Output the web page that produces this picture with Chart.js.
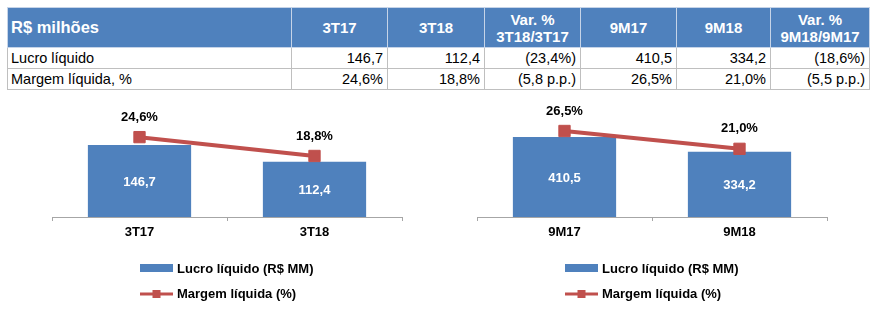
<!DOCTYPE html>
<html lang="pt-BR">
<head>
<meta charset="utf-8">
<title>Lucro líquido e margem líquida</title>
<script src="https://cdn.jsdelivr.net/npm/chart.js@4.4.0/dist/chart.umd.min.js"></script>
<style>
    body {
        margin: 0;
        width: 877px;
        height: 324px;
        background: #fff;
        font-family: Arial, "Liberation Sans", sans-serif;
        position: relative;
        overflow: hidden;
    }
    #resumo {
        position: absolute;
        left: 7px;
        top: 7px;
        width: 862px;
        border-collapse: collapse;
        table-layout: fixed;
    }
    #resumo th, #resumo td {
        padding: 0 4px;
        border: 1px solid #bfbfbf;
        white-space: nowrap;
        box-sizing: border-box;
    }
    #resumo th {
        background: #4f81bd;
        color: #fff;
        font-weight: bold;
        font-size: 15px;
        line-height: 17px;
        height: 40px;
        text-align: center;
        border-color: #c6d4e8;
    }
    #resumo th.first {
        text-align: left;
        font-size: 16.5px;
        padding-left: 3px;
    }
    #resumo td {
        font-size: 14.5px;
        line-height: 17px;
        text-align: right;
        height: 21px;
        color: #000;
    }
    #resumo td.first {
        text-align: left;
        padding-left: 3px;
    }
    .chart-box {
        position: absolute;
        top: 100px;
        height: 224px;
    }
</style>
</head>
<body>

<table id="resumo"></table>

<div class="chart-box" style="left:0px;width:437px;">
    <canvas id="chartTrimestre" width="437" height="224"></canvas>
</div>
<div class="chart-box" style="left:437px;width:440px;">
    <canvas id="chartNoveMeses" width="440" height="224"></canvas>
</div>

<script>
// Periodos
const periodosTri = ['3T17', '3T18'];
const periodos9M = ['9M17', '9M18'];

// Lucro liquido (R$ milhoes)
const lucroTri = [146.7, 112.4];
const lucro9M = [410.5, 334.2];

// Margem liquida (%)
const margemTri = [24.6, 18.8];
const margem9M = [26.5, 21.0];

const BLUE = '#4f81bd';
const RED = '#c0504d';
const FONT = 'Arial, "Liberation Sans", sans-serif';

function fmt(v) {
    return v.toFixed(1).replace('.', ',');
}

// Tabela resumo
function buildTable() {
    const varLucroTri = (lucroTri[1] / lucroTri[0] - 1) * 100;
    const varLucro9M = (lucro9M[1] / lucro9M[0] - 1) * 100;
    const varMargTri = margemTri[1] - margemTri[0];
    const varMarg9M = margem9M[1] - margem9M[0];
    const neg = (v, suf) => v < 0 ? '(' + fmt(-v) + suf + ')' : fmt(v) + suf;

    const widths = [284, 96, 97, 96, 96, 94, 99];
    let html = '<colgroup>' + widths.map(w => '<col style="width:' + w + 'px">').join('') + '</colgroup>';
    html += '<tr><th class="first">R$ milhões</th>' +
        '<th>' + periodosTri[0] + '</th><th>' + periodosTri[1] + '</th>' +
        '<th>Var. %<br>' + periodosTri[1] + '/' + periodosTri[0] + '</th>' +
        '<th>' + periodos9M[0] + '</th><th>' + periodos9M[1] + '</th>' +
        '<th>Var. %<br>' + periodos9M[1] + '/' + periodos9M[0] + '</th></tr>';
    html += '<tr><td class="first">Lucro líquido</td>' +
        '<td>' + fmt(lucroTri[0]) + '</td><td>' + fmt(lucroTri[1]) + '</td>' +
        '<td>' + neg(varLucroTri, '%') + '</td>' +
        '<td>' + fmt(lucro9M[0]) + '</td><td>' + fmt(lucro9M[1]) + '</td>' +
        '<td>' + neg(varLucro9M, '%') + '</td></tr>';
    html += '<tr><td class="first">Margem líquida, %</td>' +
        '<td>' + fmt(margemTri[0]) + '%</td><td>' + fmt(margemTri[1]) + '%</td>' +
        '<td>' + neg(varMargTri, ' p.p.') + '</td>' +
        '<td>' + fmt(margem9M[0]) + '%</td><td>' + fmt(margem9M[1]) + '%</td>' +
        '<td>' + neg(varMarg9M, ' p.p.') + '</td></tr>';
    document.getElementById('resumo').innerHTML = html;
}

// Valores dentro das barras e acima dos pontos
const valueLabels = {
    id: 'valueLabels',
    afterDatasetsDraw(chart) {
        const ctx = chart.ctx;
        ctx.save();
        ctx.font = 'bold 13px ' + FONT;
        ctx.textAlign = 'center';
        ctx.textBaseline = 'middle';
        chart.data.datasets.forEach((ds, i) => {
            const meta = chart.getDatasetMeta(i);
            meta.data.forEach((el, j) => {
                if (ds.type === 'line') {
                    ctx.fillStyle = '#000';
                    ctx.fillText(fmt(ds.data[j]) + '%', el.x, el.y - 20);
                } else {
                    ctx.fillStyle = '#fff';
                    ctx.fillText(fmt(ds.data[j]), el.x, (el.y + el.base) / 2 + 1);
                }
            });
        });
        ctx.restore();
    }
};

// Legenda empilhada abaixo do eixo
const stackedLegend = {
    id: 'stackedLegend',
    afterDraw(chart) {
        const {ctx, chartArea} = chart;
        const barDs = chart.data.datasets[0];
        const lineDs = chart.data.datasets[1];
        const x0 = chartArea.left + 88;
        const yBar = chartArea.bottom + 51;
        const yLine = chartArea.bottom + 77;
        ctx.save();
        ctx.fillStyle = barDs.backgroundColor;
        ctx.fillRect(x0, yBar - 4, 33, 8);
        ctx.strokeStyle = lineDs.borderColor;
        ctx.lineWidth = 3;
        ctx.beginPath();
        ctx.moveTo(x0, yLine);
        ctx.lineTo(x0 + 33, yLine);
        ctx.stroke();
        ctx.fillStyle = lineDs.borderColor;
        ctx.fillRect(x0 + 12.5, yLine - 4, 8, 8);
        ctx.font = 'bold 13px ' + FONT;
        ctx.fillStyle = '#000';
        ctx.textAlign = 'left';
        ctx.textBaseline = 'middle';
        ctx.fillText(barDs.label, x0 + 37, yBar + 1);
        ctx.fillText(lineDs.label, x0 + 37, yLine);
        ctx.restore();
    }
};

function makeChart(id, labels, lucro, margem, barMax, padLeft, padRight) {
    const ctx = document.getElementById(id).getContext('2d');
    return new Chart(ctx, {
        type: 'bar',
        data: {
            labels: labels,
            datasets: [{
                type: 'bar',
                label: 'Lucro líquido (R$ MM)',
                data: lucro,
                backgroundColor: BLUE,
                yAxisID: 'y',
                categoryPercentage: 1,
                barPercentage: 0.59,
                order: 2
            }, {
                type: 'line',
                label: 'Margem líquida (%)',
                data: margem,
                borderColor: RED,
                backgroundColor: RED,
                borderWidth: 4,
                pointStyle: 'rect',
                pointRadius: 8,
                pointBorderWidth: 1,
                pointBackgroundColor: RED,
                pointBorderColor: RED,
                yAxisID: 'y1',
                order: 1
            }]
        },
        options: {
            responsive: false,
            animation: false,
            layout: {
                autoPadding: false,
                padding: { left: padLeft, right: padRight, top: 5, bottom: 79.4 }
            },
            plugins: {
                legend: { display: false },
                tooltip: { enabled: false }
            },
            scales: {
                x: {
                    offset: true,
                    grid: {
                        display: true,
                        drawOnChartArea: false,
                        offset: true,
                        tickLength: 4,
                        color: '#a6a6a6'
                    },
                    border: { display: true, color: '#a6a6a6', width: 1 },
                    ticks: {
                        color: '#000',
                        padding: 4,
                        font: { family: FONT, size: 13, weight: 'bold' }
                    }
                },
                y: { display: false, min: 0, max: barMax },
                y1: { display: false, min: 0, max: 34.5, position: 'right' }
            }
        },
        plugins: [valueLabels, stackedLegend]
    });
}

document.addEventListener('DOMContentLoaded', function() {
    buildTable();
    Chart.defaults.font.family = FONT;
    makeChart('chartTrimestre', periodosTri, lucroTri, margemTri, 228.2, 52, 35);
    makeChart('chartNoveMeses', periodos9M, lucro9M, margem9M, 574.7, 40, 50);
});
</script>
</body>
</html>
